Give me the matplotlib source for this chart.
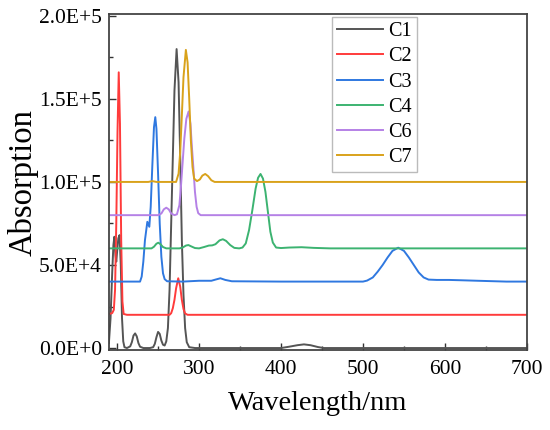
import matplotlib
matplotlib.use("Agg")
import matplotlib.pyplot as plt
from matplotlib.ticker import MultipleLocator

# spectra, values in units of 1E+4
wl_c1 = [190, 192, 194, 195.5, 196.7, 198, 199, 200, 201.5, 203, 204.5, 206, 207.5, 209, 212,
         216, 218, 220, 222, 224, 226, 228, 232, 240, 244, 246, 248, 250, 252, 254, 256, 258,
         260, 262, 264, 266, 268, 270, 272.6, 275, 277, 279, 281, 283, 285, 288, 295, 330,
         400, 410, 420, 428, 436, 445, 452, 500, 600, 700]
ab_c1 = [0.3, 1.8, 4.5, 6.2, 6.7, 5.6, 5.2, 5.8, 6.6, 6.8, 5.0, 1.8, 0.4, 0.05, 0.0,
         0.1, 0.35, 0.75, 0.88, 0.7, 0.3, 0.08, 0.0, 0.0, 0.05, 0.25, 0.65, 0.97, 0.85, 0.45, 0.2, 0.15,
         0.4, 1.2, 3.5, 7.5, 11.5, 15.5, 18.0, 16.0, 11.5, 6.5, 3.2, 1.2, 0.35, 0.05, 0.0, 0.0,
         0.0, 0.08, 0.17, 0.22, 0.17, 0.06, 0.0, 0.0, 0.0, 0.0]

wl_c2 = [190, 194, 196, 197.5, 199, 200.5, 202, 203.5, 205, 206.5, 208, 212, 264, 266, 268,
         270, 272, 274.6, 277, 279, 281, 283, 286, 700]
ab_c2 = [2.05, 2.1, 2.3, 3.5, 7.5, 13.0, 16.6, 13.5, 6.5, 2.8, 2.05, 2.0, 2.0, 2.1, 2.4,
         2.9, 3.6, 4.2, 3.7, 2.9, 2.35, 2.08, 2.0, 2.0]

wl_c3 = [190, 228, 230, 232, 234, 236.9, 239.3, 241, 243, 245, 246.6, 248, 250, 252, 254, 256,
         258, 261, 280, 300, 315, 320, 326, 332, 340, 400, 500, 505, 512, 518, 524, 530, 536,
         543, 550, 556, 562, 568, 574, 580, 590, 605, 620, 640, 675, 700]
ab_c3 = [4.0, 4.0, 4.3, 5.2, 6.5, 7.6, 7.3, 8.5, 11.0, 13.3, 13.9, 13.2, 10.5, 7.5, 5.5, 4.5,
         4.15, 4.02, 4.0, 4.05, 4.05, 4.12, 4.2, 4.1, 4.02, 4.0, 4.0, 4.06, 4.25, 4.6, 5.0, 5.45, 5.85,
         6.04, 5.85, 5.45, 5.0, 4.55, 4.25, 4.12, 4.1, 4.1, 4.08, 4.05, 4.0, 4.0]

wl_c4 = [190, 242, 245, 248, 250.3, 253, 256, 260, 276, 280, 284, 287, 290, 295, 300, 306, 312,
         316, 320, 325, 329, 333, 338, 343, 349, 353, 357, 361, 365, 369, 372, 375, 378, 381,
         384, 387, 390, 394, 400, 410, 425, 440, 460, 700]
ab_c4 = [6.0, 6.0, 6.1, 6.28, 6.34, 6.25, 6.08, 6.0, 6.0, 6.05, 6.17, 6.2, 6.13, 6.02, 6.0, 6.08, 6.17,
         6.18, 6.25, 6.48, 6.55, 6.45, 6.2, 6.03, 6.0, 6.05, 6.3, 7.1, 8.3, 9.6, 10.25, 10.48, 10.2, 9.4,
         8.2, 7.0, 6.35, 6.05, 6.02, 6.05, 6.07, 6.03, 6.0, 6.0]

wl_c6 = [190, 250, 254, 257, 260, 263, 266, 270, 273, 276, 278, 280, 282, 284.5, 287.2, 289.5,
         291, 293, 295, 297, 299, 302, 700]
ab_c6 = [8.0, 8.0, 8.1, 8.35, 8.45, 8.35, 8.1, 8.0, 8.05, 8.6, 9.8, 11.2, 12.6, 13.8, 14.24, 13.5,
         12.3, 10.9, 9.4, 8.5, 8.12, 8.0, 8.0]

wl_c7 = [190, 238, 243, 248, 272, 275, 277, 279, 281, 283.9, 286, 288, 290, 292, 294, 297.5,
         301, 304, 307.5, 311, 315, 319, 700]
ab_c7 = [10.0, 10.0, 10.05, 10.0, 10.0, 10.5, 11.8, 14.0, 16.3, 17.95, 17.2, 15.0, 12.5, 10.9, 10.2, 10.05,
         10.15, 10.38, 10.48, 10.35, 10.1, 10.0, 10.0]

names = ["C1", "C2", "C3", "C4", "C6", "C7"]
colors = ["#555555", "#ff3b3b", "#2f78e0", "#3cb371", "#b581e6", "#d9a21b"]

yticks = [0, 5e4, 1e5, 1.5e5, 2e5]
ytick_labels = ["0.0E+0", "5.0E+4", "1.0E+5", "1.5E+5", "2.0E+5"]
xticks = [200, 300, 400, 500, 600, 700]

plt.rcParams["font.family"] = ["Liberation Serif", "DejaVu Serif"]

fig = plt.figure(figsize=(5.5, 4.3), dpi=100)
ax = fig.add_axes([0.198, 0.186, 0.76, 0.781])

curves = [(wl_c1, ab_c1), (wl_c2, ab_c2), (wl_c3, ab_c3), (wl_c4, ab_c4), (wl_c6, ab_c6), (wl_c7, ab_c7)]
for (x, y), name, col in zip(curves, names, colors):
    ax.plot(x, [v * 1e4 for v in y], color=col, lw=1.4, label=name)

ax.set_xlim(190, 700)
ax.set_ylim(-1200, 2.01e5)
ax.set_xticks(xticks)
ax.set_yticks(yticks)
ax.set_yticklabels(ytick_labels)
ax.xaxis.set_minor_locator(MultipleLocator(50))
ax.yaxis.set_minor_locator(MultipleLocator(2.5e4))
ax.tick_params(which="both", direction="in", labelsize=15.5, colors="#333333", labelcolor="black")
ax.tick_params(which="major", length=5, width=1)
ax.tick_params(which="minor", length=3, width=1)
ax.tick_params(axis="x", pad=7)
ax.tick_params(axis="y", pad=5)
for s in ax.spines.values():
    s.set_color("#444444")
    s.set_linewidth(1.3)

ax.set_xlabel("Wavelength/nm", fontsize=20.5, labelpad=9)
ax.set_ylabel("Absorption", fontsize=23.5, labelpad=0)

leg = ax.legend(loc="upper left", bbox_to_anchor=(0.533, 0.991), borderaxespad=0, fontsize=14.5,
                handlelength=2.3, labelspacing=0.3, handletextpad=0.25, fancybox=False,
                borderpad=0.25)
leg.get_frame().set_edgecolor("#aaaaaa")
leg.get_frame().set_linewidth(1.0)

fig.savefig("out.png", dpi=100)
